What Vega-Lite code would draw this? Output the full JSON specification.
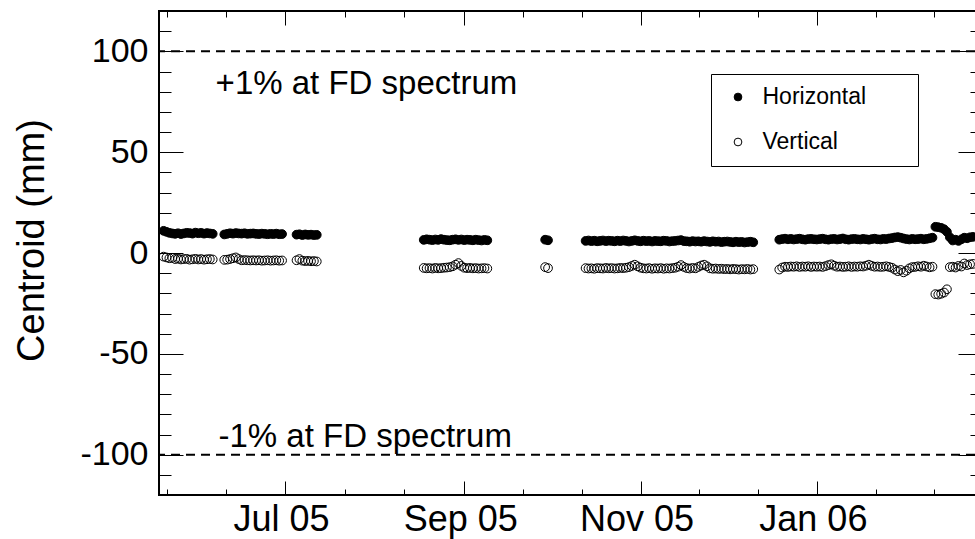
{
"$schema":"https://vega.github.io/schema/vega-lite/v6.json",
"width":816,"height":484,"autosize":"none",
"padding":{"left":159,"top":11,"right":0,"bottom":44},
"background":"white",
"config":{"font":"Liberation Sans","view":{"stroke":"black","strokeWidth":2,"strokeDash":[817,483,1302]},"axis":{"labelOverlap":false}},
"layer":[
{"data":{"values":[
{"d":"2005-05-20","s":"H","y":11.0},{"d":"2005-05-20","s":"V","y":-1.8},
{"d":"2005-05-21","s":"H","y":10.5},{"d":"2005-05-21","s":"V","y":-2.2},
{"d":"2005-05-22","s":"H","y":10.0},{"d":"2005-05-22","s":"V","y":-2.6},
{"d":"2005-05-23","s":"H","y":9.7},{"d":"2005-05-23","s":"V","y":-2.4},
{"d":"2005-05-24","s":"H","y":9.5},{"d":"2005-05-24","s":"V","y":-3.0},
{"d":"2005-05-25","s":"H","y":9.8},{"d":"2005-05-25","s":"V","y":-2.8},
{"d":"2005-05-26","s":"H","y":9.4},{"d":"2005-05-26","s":"V","y":-3.2},
{"d":"2005-05-27","s":"H","y":9.7},{"d":"2005-05-27","s":"V","y":-3.0},
{"d":"2005-05-28","s":"H","y":10.0},{"d":"2005-05-28","s":"V","y":-2.9},
{"d":"2005-05-29","s":"H","y":9.9},{"d":"2005-05-29","s":"V","y":-3.3},
{"d":"2005-05-30","s":"H","y":9.6},{"d":"2005-05-30","s":"V","y":-3.1},
{"d":"2005-05-31","s":"H","y":10.1},{"d":"2005-05-31","s":"V","y":-2.9},
{"d":"2005-06-01","s":"H","y":9.8},{"d":"2005-06-01","s":"V","y":-3.2},
{"d":"2005-06-02","s":"H","y":10.0},{"d":"2005-06-02","s":"V","y":-3.0},
{"d":"2005-06-03","s":"H","y":9.6},{"d":"2005-06-03","s":"V","y":-3.3},
{"d":"2005-06-04","s":"H","y":9.9},{"d":"2005-06-04","s":"V","y":-3.1},
{"d":"2005-06-05","s":"H","y":9.7},{"d":"2005-06-05","s":"V","y":-3.0},
{"d":"2005-06-06","s":"H","y":9.5},{"d":"2005-06-06","s":"V","y":-3.2},
{"d":"2005-06-10","s":"H","y":9.2},{"d":"2005-06-10","s":"V","y":-3.4},
{"d":"2005-06-11","s":"H","y":9.5},{"d":"2005-06-11","s":"V","y":-3.3},
{"d":"2005-06-12","s":"H","y":9.8},{"d":"2005-06-12","s":"V","y":-3.0},
{"d":"2005-06-13","s":"H","y":9.6},{"d":"2005-06-13","s":"V","y":-2.6},
{"d":"2005-06-14","s":"H","y":9.9},{"d":"2005-06-14","s":"V","y":-2.2},
{"d":"2005-06-15","s":"H","y":9.7},{"d":"2005-06-15","s":"V","y":-3.0},
{"d":"2005-06-16","s":"H","y":9.6},{"d":"2005-06-16","s":"V","y":-3.6},
{"d":"2005-06-17","s":"H","y":9.8},{"d":"2005-06-17","s":"V","y":-3.5},
{"d":"2005-06-18","s":"H","y":9.5},{"d":"2005-06-18","s":"V","y":-3.6},
{"d":"2005-06-19","s":"H","y":9.6},{"d":"2005-06-19","s":"V","y":-3.7},
{"d":"2005-06-20","s":"H","y":9.7},{"d":"2005-06-20","s":"V","y":-3.6},
{"d":"2005-06-21","s":"H","y":9.5},{"d":"2005-06-21","s":"V","y":-3.7},
{"d":"2005-06-22","s":"H","y":9.4},{"d":"2005-06-22","s":"V","y":-3.6},
{"d":"2005-06-23","s":"H","y":9.6},{"d":"2005-06-23","s":"V","y":-3.8},
{"d":"2005-06-24","s":"H","y":9.5},{"d":"2005-06-24","s":"V","y":-3.7},
{"d":"2005-06-25","s":"H","y":9.3},{"d":"2005-06-25","s":"V","y":-3.6},
{"d":"2005-06-26","s":"H","y":9.5},{"d":"2005-06-26","s":"V","y":-3.8},
{"d":"2005-06-27","s":"H","y":9.4},{"d":"2005-06-27","s":"V","y":-3.7},
{"d":"2005-06-28","s":"H","y":9.6},{"d":"2005-06-28","s":"V","y":-3.6},
{"d":"2005-06-29","s":"H","y":9.3},{"d":"2005-06-29","s":"V","y":-3.8},
{"d":"2005-06-30","s":"H","y":9.4},{"d":"2005-06-30","s":"V","y":-3.7},
{"d":"2005-07-05","s":"H","y":9.1},{"d":"2005-07-05","s":"V","y":-3.6},
{"d":"2005-07-06","s":"H","y":9.3},{"d":"2005-07-06","s":"V","y":-3.0},
{"d":"2005-07-07","s":"H","y":8.9},{"d":"2005-07-07","s":"V","y":-3.8},
{"d":"2005-07-08","s":"H","y":9.2},{"d":"2005-07-08","s":"V","y":-4.0},
{"d":"2005-07-09","s":"H","y":9.0},{"d":"2005-07-09","s":"V","y":-3.9},
{"d":"2005-07-10","s":"H","y":9.1},{"d":"2005-07-10","s":"V","y":-4.1},
{"d":"2005-07-11","s":"H","y":8.9},{"d":"2005-07-11","s":"V","y":-4.0},
{"d":"2005-07-12","s":"H","y":9.0},{"d":"2005-07-12","s":"V","y":-4.2},
{"d":"2005-08-18","s":"H","y":6.5},{"d":"2005-08-18","s":"V","y":-7.4},
{"d":"2005-08-19","s":"H","y":6.8},{"d":"2005-08-19","s":"V","y":-7.6},
{"d":"2005-08-20","s":"H","y":6.6},{"d":"2005-08-20","s":"V","y":-7.5},
{"d":"2005-08-21","s":"H","y":6.4},{"d":"2005-08-21","s":"V","y":-7.7},
{"d":"2005-08-22","s":"H","y":6.7},{"d":"2005-08-22","s":"V","y":-7.4},
{"d":"2005-08-23","s":"H","y":6.5},{"d":"2005-08-23","s":"V","y":-7.6},
{"d":"2005-08-24","s":"H","y":6.9},{"d":"2005-08-24","s":"V","y":-7.5},
{"d":"2005-08-25","s":"H","y":6.6},{"d":"2005-08-25","s":"V","y":-7.3},
{"d":"2005-08-26","s":"H","y":6.4},{"d":"2005-08-26","s":"V","y":-7.2},
{"d":"2005-08-27","s":"H","y":6.3},{"d":"2005-08-27","s":"V","y":-7.0},
{"d":"2005-08-28","s":"H","y":6.6},{"d":"2005-08-28","s":"V","y":-6.6},
{"d":"2005-08-29","s":"H","y":6.8},{"d":"2005-08-29","s":"V","y":-5.8},
{"d":"2005-08-30","s":"H","y":6.5},{"d":"2005-08-30","s":"V","y":-5.0},
{"d":"2005-08-31","s":"H","y":6.7},{"d":"2005-08-31","s":"V","y":-6.4},
{"d":"2005-09-01","s":"H","y":6.4},{"d":"2005-09-01","s":"V","y":-7.3},
{"d":"2005-09-02","s":"H","y":6.6},{"d":"2005-09-02","s":"V","y":-7.5},
{"d":"2005-09-03","s":"H","y":6.5},{"d":"2005-09-03","s":"V","y":-7.4},
{"d":"2005-09-04","s":"H","y":6.3},{"d":"2005-09-04","s":"V","y":-7.6},
{"d":"2005-09-05","s":"H","y":6.6},{"d":"2005-09-05","s":"V","y":-7.5},
{"d":"2005-09-06","s":"H","y":6.4},{"d":"2005-09-06","s":"V","y":-7.7},
{"d":"2005-09-07","s":"H","y":6.2},{"d":"2005-09-07","s":"V","y":-7.6},
{"d":"2005-09-08","s":"H","y":6.5},{"d":"2005-09-08","s":"V","y":-7.5},
{"d":"2005-09-09","s":"H","y":6.3},{"d":"2005-09-09","s":"V","y":-7.7},
{"d":"2005-09-29","s":"H","y":6.6},{"d":"2005-09-29","s":"V","y":-7.0},
{"d":"2005-09-30","s":"H","y":6.3},{"d":"2005-09-30","s":"V","y":-7.5},
{"d":"2005-10-13","s":"H","y":6.0},{"d":"2005-10-13","s":"V","y":-7.5},
{"d":"2005-10-14","s":"H","y":6.2},{"d":"2005-10-14","s":"V","y":-7.7},
{"d":"2005-10-15","s":"H","y":5.9},{"d":"2005-10-15","s":"V","y":-7.6},
{"d":"2005-10-16","s":"H","y":6.1},{"d":"2005-10-16","s":"V","y":-7.8},
{"d":"2005-10-17","s":"H","y":5.8},{"d":"2005-10-17","s":"V","y":-7.5},
{"d":"2005-10-18","s":"H","y":6.0},{"d":"2005-10-18","s":"V","y":-7.6},
{"d":"2005-10-19","s":"H","y":6.2},{"d":"2005-10-19","s":"V","y":-7.7},
{"d":"2005-10-20","s":"H","y":5.9},{"d":"2005-10-20","s":"V","y":-7.4},
{"d":"2005-10-21","s":"H","y":6.1},{"d":"2005-10-21","s":"V","y":-7.6},
{"d":"2005-10-22","s":"H","y":6.0},{"d":"2005-10-22","s":"V","y":-7.5},
{"d":"2005-10-23","s":"H","y":5.8},{"d":"2005-10-23","s":"V","y":-7.7},
{"d":"2005-10-24","s":"H","y":6.1},{"d":"2005-10-24","s":"V","y":-7.6},
{"d":"2005-10-25","s":"H","y":5.9},{"d":"2005-10-25","s":"V","y":-7.4},
{"d":"2005-10-26","s":"H","y":6.2},{"d":"2005-10-26","s":"V","y":-7.5},
{"d":"2005-10-27","s":"H","y":6.0},{"d":"2005-10-27","s":"V","y":-7.3},
{"d":"2005-10-28","s":"H","y":5.7},{"d":"2005-10-28","s":"V","y":-7.0},
{"d":"2005-10-29","s":"H","y":6.0},{"d":"2005-10-29","s":"V","y":-6.4},
{"d":"2005-10-30","s":"H","y":6.3},{"d":"2005-10-30","s":"V","y":-5.8},
{"d":"2005-10-31","s":"H","y":6.0},{"d":"2005-10-31","s":"V","y":-6.6},
{"d":"2005-11-01","s":"H","y":5.8},{"d":"2005-11-01","s":"V","y":-7.3},
{"d":"2005-11-02","s":"H","y":6.1},{"d":"2005-11-02","s":"V","y":-7.6},
{"d":"2005-11-03","s":"H","y":5.9},{"d":"2005-11-03","s":"V","y":-7.7},
{"d":"2005-11-04","s":"H","y":6.0},{"d":"2005-11-04","s":"V","y":-7.5},
{"d":"2005-11-05","s":"H","y":5.7},{"d":"2005-11-05","s":"V","y":-7.8},
{"d":"2005-11-06","s":"H","y":6.0},{"d":"2005-11-06","s":"V","y":-7.6},
{"d":"2005-11-07","s":"H","y":5.9},{"d":"2005-11-07","s":"V","y":-7.7},
{"d":"2005-11-08","s":"H","y":5.8},{"d":"2005-11-08","s":"V","y":-7.5},
{"d":"2005-11-09","s":"H","y":6.1},{"d":"2005-11-09","s":"V","y":-7.8},
{"d":"2005-11-10","s":"H","y":6.0},{"d":"2005-11-10","s":"V","y":-7.6},
{"d":"2005-11-11","s":"H","y":5.7},{"d":"2005-11-11","s":"V","y":-7.7},
{"d":"2005-11-12","s":"H","y":5.9},{"d":"2005-11-12","s":"V","y":-7.5},
{"d":"2005-11-13","s":"H","y":6.0},{"d":"2005-11-13","s":"V","y":-7.3},
{"d":"2005-11-14","s":"H","y":6.2},{"d":"2005-11-14","s":"V","y":-6.8},
{"d":"2005-11-15","s":"H","y":6.4},{"d":"2005-11-15","s":"V","y":-6.0},
{"d":"2005-11-16","s":"H","y":5.9},{"d":"2005-11-16","s":"V","y":-6.9},
{"d":"2005-11-17","s":"H","y":5.8},{"d":"2005-11-17","s":"V","y":-7.5},
{"d":"2005-11-18","s":"H","y":5.6},{"d":"2005-11-18","s":"V","y":-7.7},
{"d":"2005-11-19","s":"H","y":5.9},{"d":"2005-11-19","s":"V","y":-7.4},
{"d":"2005-11-20","s":"H","y":5.7},{"d":"2005-11-20","s":"V","y":-7.6},
{"d":"2005-11-21","s":"H","y":5.8},{"d":"2005-11-21","s":"V","y":-6.9},
{"d":"2005-11-22","s":"H","y":5.6},{"d":"2005-11-22","s":"V","y":-6.2},
{"d":"2005-11-23","s":"H","y":5.9},{"d":"2005-11-23","s":"V","y":-5.8},
{"d":"2005-11-24","s":"H","y":5.7},{"d":"2005-11-24","s":"V","y":-6.6},
{"d":"2005-11-25","s":"H","y":5.5},{"d":"2005-11-25","s":"V","y":-7.6},
{"d":"2005-11-26","s":"H","y":5.8},{"d":"2005-11-26","s":"V","y":-7.8},
{"d":"2005-11-27","s":"H","y":5.6},{"d":"2005-11-27","s":"V","y":-7.7},
{"d":"2005-11-28","s":"H","y":5.7},{"d":"2005-11-28","s":"V","y":-7.9},
{"d":"2005-11-29","s":"H","y":5.4},{"d":"2005-11-29","s":"V","y":-7.8},
{"d":"2005-11-30","s":"H","y":5.6},{"d":"2005-11-30","s":"V","y":-8.0},
{"d":"2005-12-01","s":"H","y":5.7},{"d":"2005-12-01","s":"V","y":-7.9},
{"d":"2005-12-02","s":"H","y":5.5},{"d":"2005-12-02","s":"V","y":-8.1},
{"d":"2005-12-03","s":"H","y":5.3},{"d":"2005-12-03","s":"V","y":-7.9},
{"d":"2005-12-04","s":"H","y":5.6},{"d":"2005-12-04","s":"V","y":-8.0},
{"d":"2005-12-05","s":"H","y":5.4},{"d":"2005-12-05","s":"V","y":-8.2},
{"d":"2005-12-06","s":"H","y":5.5},{"d":"2005-12-06","s":"V","y":-8.0},
{"d":"2005-12-07","s":"H","y":5.2},{"d":"2005-12-07","s":"V","y":-8.1},
{"d":"2005-12-08","s":"H","y":5.4},{"d":"2005-12-08","s":"V","y":-7.9},
{"d":"2005-12-09","s":"H","y":5.6},{"d":"2005-12-09","s":"V","y":-8.2},
{"d":"2005-12-10","s":"H","y":5.3},{"d":"2005-12-10","s":"V","y":-8.0},
{"d":"2005-12-19","s":"H","y":6.6},{"d":"2005-12-19","s":"V","y":-8.2},
{"d":"2005-12-20","s":"H","y":6.9},{"d":"2005-12-20","s":"V","y":-7.2},
{"d":"2005-12-21","s":"H","y":7.1},{"d":"2005-12-21","s":"V","y":-6.8},
{"d":"2005-12-22","s":"H","y":6.8},{"d":"2005-12-22","s":"V","y":-6.9},
{"d":"2005-12-23","s":"H","y":7.0},{"d":"2005-12-23","s":"V","y":-6.7},
{"d":"2005-12-24","s":"H","y":6.7},{"d":"2005-12-24","s":"V","y":-6.8},
{"d":"2005-12-25","s":"H","y":6.9},{"d":"2005-12-25","s":"V","y":-6.6},
{"d":"2005-12-26","s":"H","y":7.1},{"d":"2005-12-26","s":"V","y":-6.9},
{"d":"2005-12-27","s":"H","y":6.8},{"d":"2005-12-27","s":"V","y":-6.7},
{"d":"2005-12-28","s":"H","y":6.6},{"d":"2005-12-28","s":"V","y":-6.8},
{"d":"2005-12-29","s":"H","y":6.9},{"d":"2005-12-29","s":"V","y":-6.6},
{"d":"2005-12-30","s":"H","y":7.0},{"d":"2005-12-30","s":"V","y":-6.9},
{"d":"2005-12-31","s":"H","y":6.8},{"d":"2005-12-31","s":"V","y":-6.7},
{"d":"2006-01-01","s":"H","y":6.7},{"d":"2006-01-01","s":"V","y":-6.8},
{"d":"2006-01-02","s":"H","y":6.9},{"d":"2006-01-02","s":"V","y":-6.7},
{"d":"2006-01-03","s":"H","y":7.1},{"d":"2006-01-03","s":"V","y":-6.9},
{"d":"2006-01-04","s":"H","y":6.8},{"d":"2006-01-04","s":"V","y":-6.5},
{"d":"2006-01-05","s":"H","y":6.6},{"d":"2006-01-05","s":"V","y":-6.0},
{"d":"2006-01-06","s":"H","y":6.9},{"d":"2006-01-06","s":"V","y":-5.6},
{"d":"2006-01-07","s":"H","y":7.0},{"d":"2006-01-07","s":"V","y":-6.3},
{"d":"2006-01-08","s":"H","y":6.7},{"d":"2006-01-08","s":"V","y":-6.8},
{"d":"2006-01-09","s":"H","y":6.9},{"d":"2006-01-09","s":"V","y":-6.7},
{"d":"2006-01-10","s":"H","y":7.2},{"d":"2006-01-10","s":"V","y":-6.9},
{"d":"2006-01-11","s":"H","y":6.8},{"d":"2006-01-11","s":"V","y":-6.8},
{"d":"2006-01-12","s":"H","y":6.6},{"d":"2006-01-12","s":"V","y":-6.6},
{"d":"2006-01-13","s":"H","y":6.9},{"d":"2006-01-13","s":"V","y":-6.9},
{"d":"2006-01-14","s":"H","y":7.0},{"d":"2006-01-14","s":"V","y":-6.7},
{"d":"2006-01-15","s":"H","y":6.8},{"d":"2006-01-15","s":"V","y":-6.8},
{"d":"2006-01-16","s":"H","y":6.7},{"d":"2006-01-16","s":"V","y":-6.6},
{"d":"2006-01-17","s":"H","y":7.0},{"d":"2006-01-17","s":"V","y":-6.7},
{"d":"2006-01-18","s":"H","y":6.8},{"d":"2006-01-18","s":"V","y":-6.3},
{"d":"2006-01-19","s":"H","y":6.6},{"d":"2006-01-19","s":"V","y":-5.8},
{"d":"2006-01-20","s":"H","y":6.9},{"d":"2006-01-20","s":"V","y":-6.4},
{"d":"2006-01-21","s":"H","y":7.1},{"d":"2006-01-21","s":"V","y":-6.8},
{"d":"2006-01-22","s":"H","y":6.8},{"d":"2006-01-22","s":"V","y":-6.7},
{"d":"2006-01-23","s":"H","y":6.7},{"d":"2006-01-23","s":"V","y":-6.9},
{"d":"2006-01-24","s":"H","y":7.0},{"d":"2006-01-24","s":"V","y":-6.8},
{"d":"2006-01-25","s":"H","y":6.9},{"d":"2006-01-25","s":"V","y":-6.6},
{"d":"2006-01-26","s":"H","y":7.2},{"d":"2006-01-26","s":"V","y":-6.9},
{"d":"2006-01-27","s":"H","y":7.4},{"d":"2006-01-27","s":"V","y":-7.3},
{"d":"2006-01-28","s":"H","y":7.7},{"d":"2006-01-28","s":"V","y":-8.2},
{"d":"2006-01-29","s":"H","y":7.9},{"d":"2006-01-29","s":"V","y":-9.0},
{"d":"2006-01-30","s":"H","y":7.6},{"d":"2006-01-30","s":"V","y":-8.4},
{"d":"2006-01-31","s":"H","y":7.2},{"d":"2006-01-31","s":"V","y":-9.6},
{"d":"2006-02-01","s":"H","y":6.9},{"d":"2006-02-01","s":"V","y":-8.8},
{"d":"2006-02-02","s":"H","y":6.7},{"d":"2006-02-02","s":"V","y":-7.6},
{"d":"2006-02-03","s":"H","y":7.0},{"d":"2006-02-03","s":"V","y":-7.0},
{"d":"2006-02-04","s":"H","y":6.8},{"d":"2006-02-04","s":"V","y":-6.9},
{"d":"2006-02-05","s":"H","y":6.9},{"d":"2006-02-05","s":"V","y":-6.6},
{"d":"2006-02-06","s":"H","y":7.1},{"d":"2006-02-06","s":"V","y":-6.8},
{"d":"2006-02-07","s":"H","y":6.8},{"d":"2006-02-07","s":"V","y":-6.3},
{"d":"2006-02-08","s":"H","y":7.0},{"d":"2006-02-08","s":"V","y":-6.7},
{"d":"2006-02-09","s":"H","y":7.3},{"d":"2006-02-09","s":"V","y":-7.1},
{"d":"2006-02-10","s":"H","y":7.6},{"d":"2006-02-10","s":"V","y":-6.8},
{"d":"2006-02-11","s":"H","y":13.0},{"d":"2006-02-11","s":"V","y":-20.4},
{"d":"2006-02-12","s":"H","y":12.8},{"d":"2006-02-12","s":"V","y":-20.6},
{"d":"2006-02-13","s":"H","y":12.5},{"d":"2006-02-13","s":"V","y":-20.2},
{"d":"2006-02-14","s":"H","y":11.8},{"d":"2006-02-14","s":"V","y":-19.6},
{"d":"2006-02-15","s":"H","y":10.5},{"d":"2006-02-15","s":"V","y":-18.0},
{"d":"2006-02-16","s":"H","y":7.8},{"d":"2006-02-16","s":"V","y":-7.0},
{"d":"2006-02-17","s":"H","y":6.2},{"d":"2006-02-17","s":"V","y":-6.8},
{"d":"2006-02-18","s":"H","y":6.6},{"d":"2006-02-18","s":"V","y":-7.2},
{"d":"2006-02-19","s":"H","y":6.0},{"d":"2006-02-19","s":"V","y":-6.4},
{"d":"2006-02-20","s":"H","y":6.8},{"d":"2006-02-20","s":"V","y":-6.7},
{"d":"2006-02-21","s":"H","y":7.6},{"d":"2006-02-21","s":"V","y":-5.2},
{"d":"2006-02-22","s":"H","y":7.3},{"d":"2006-02-22","s":"V","y":-6.0},
{"d":"2006-02-23","s":"H","y":7.8},{"d":"2006-02-23","s":"V","y":-5.6},
{"d":"2006-02-24","s":"H","y":8.0},{"d":"2006-02-24","s":"V","y":-5.4}
]},
 "mark":{"type":"point","shape":"circle","filled":true,"size":76,"stroke":"black","strokeWidth":1,"opacity":1},
 "encoding":{
  "x":{"field":"d","type":"temporal",
   "scale":{"type":"utc","domain":[{"year":2005,"month":5,"date":18,"hours":10,"utc":true},{"year":2006,"month":2,"date":24,"hours":17,"utc":true}],"nice":false},
   "axis":{"title":null,"ticks":false,"domain":false,"grid":true,"gridColor":"black","gridOpacity":1,"gridWidth":1,"tickCount":40,
    "values":[{"year":2005,"month":5,"date":21,"hours":3,"utc":true},{"year":2005,"month":6,"date":10,"hours":13,"utc":true},{"year":2005,"month":7,"date":1,"utc":true},{"year":2005,"month":7,"date":21,"hours":16,"utc":true},{"year":2005,"month":8,"date":11,"hours":8,"utc":true},{"year":2005,"month":9,"date":1,"utc":true},{"year":2005,"month":9,"date":21,"hours":8,"utc":true},{"year":2005,"month":10,"date":11,"hours":16,"utc":true},{"year":2005,"month":11,"date":1,"utc":true},{"year":2005,"month":11,"date":21,"hours":8,"utc":true},{"year":2005,"month":12,"date":11,"hours":16,"utc":true},{"year":2006,"month":1,"date":1,"utc":true},{"year":2006,"month":1,"date":21,"hours":8,"utc":true},{"year":2006,"month":2,"date":10,"hours":16,"utc":true}],
    "gridDash":{"condition":{"test":"utcdate(datum.value) == 1","value":[14,456,14,1000]},"value":[6,472,6,1000]},
    "labelExpr":"utcdate(datum.value) == 1 ? utcFormat(datum.value, '%b %y') : ''",
    "labelFontSize":{"condition":{"test":"utcdate(datum.value) == 1","value":36},"value":1},
    "labelColor":"black","labelPadding":7,"labelOffset":-4,"labelBaseline":"top","labelAlign":"center","labelOverlap":false,"labelFlush":false,"labelBound":false}},
  "y":{"field":"y","type":"quantitative","scale":{"domain":[-120,120],"nice":false,"zero":false},
   "axis":{"title":"Centroid (mm)","ticks":false,"domain":false,"grid":true,"gridColor":"black","gridOpacity":1,"gridWidth":1,"tickCount":40,
    "values":[-110,-100,-90,-80,-70,-60,-50,-40,-30,-20,-10,0,10,20,30,40,50,60,70,80,90,100,110],
    "gridDash":{"condition":{"test":"datum.value % 50 == 0","value":[24,775,17,1000]},"value":[12,799,5,1000]},
    "labelExpr":"datum.value % 50 == 0 ? '' + datum.value : ''",
    "labelFontSize":{"condition":{"test":"datum.value % 50 == 0","value":34},"value":1},
    "labelColor":"black","labelPadding":11,"labelOverlap":false,"labelFlush":false,"labelBound":false,
    "titleFontSize":38,"titleFontWeight":"normal","titleColor":"black","titleX":-116,"titleY":229,"titleAngle":-90,"titleAlign":"center","titleBaseline":"alphabetic"}},
  "fill":{"field":"s","type":"nominal","scale":{"domain":["H","V"],"range":["black","transparent"]},
   "legend":{"title":null,"orient":"none","legendX":552,"legendY":63,"padding":11.5,"strokeColor":"black","fillColor":"white",
    "labelFontSize":23,"labelColor":"black","labelLimit":0,"symbolSize":60,"symbolStrokeColor":"black","symbolStrokeWidth":1,"symbolOffset":4,"labelOffset":13,"rowPadding":21,
    "labelExpr":"datum.label == 'H' ? 'Horizontal\u00a0\u2800\u2800' : 'Vertical'"}}
 }},
{"data":{"values":[{}]},"mark":{"type":"rule","color":"black","strokeWidth":2,"strokeDash":[9,6]},
 "encoding":{"y":{"datum":100,"type":"quantitative"}}},
{"data":{"values":[{}]},"mark":{"type":"rule","color":"black","strokeWidth":2,"strokeDash":[9,6]},
 "encoding":{"y":{"datum":-100,"type":"quantitative"}}},
{"data":{"values":[{}]},"mark":{"type":"text","text":"+1% at FD spectrum","align":"left","baseline":"alphabetic","fontSize":33,"color":"black"},
 "encoding":{"x":{"datum":{"year":2005,"month":6,"date":7,"utc":true},"type":"temporal"},"y":{"datum":79,"type":"quantitative"}}},
{"data":{"values":[{}]},"mark":{"type":"text","text":"-1% at FD spectrum","align":"left","baseline":"alphabetic","fontSize":33,"color":"black"},
 "encoding":{"x":{"datum":{"year":2005,"month":6,"date":8,"utc":true},"type":"temporal"},"y":{"datum":-96,"type":"quantitative"}}}
]
}
